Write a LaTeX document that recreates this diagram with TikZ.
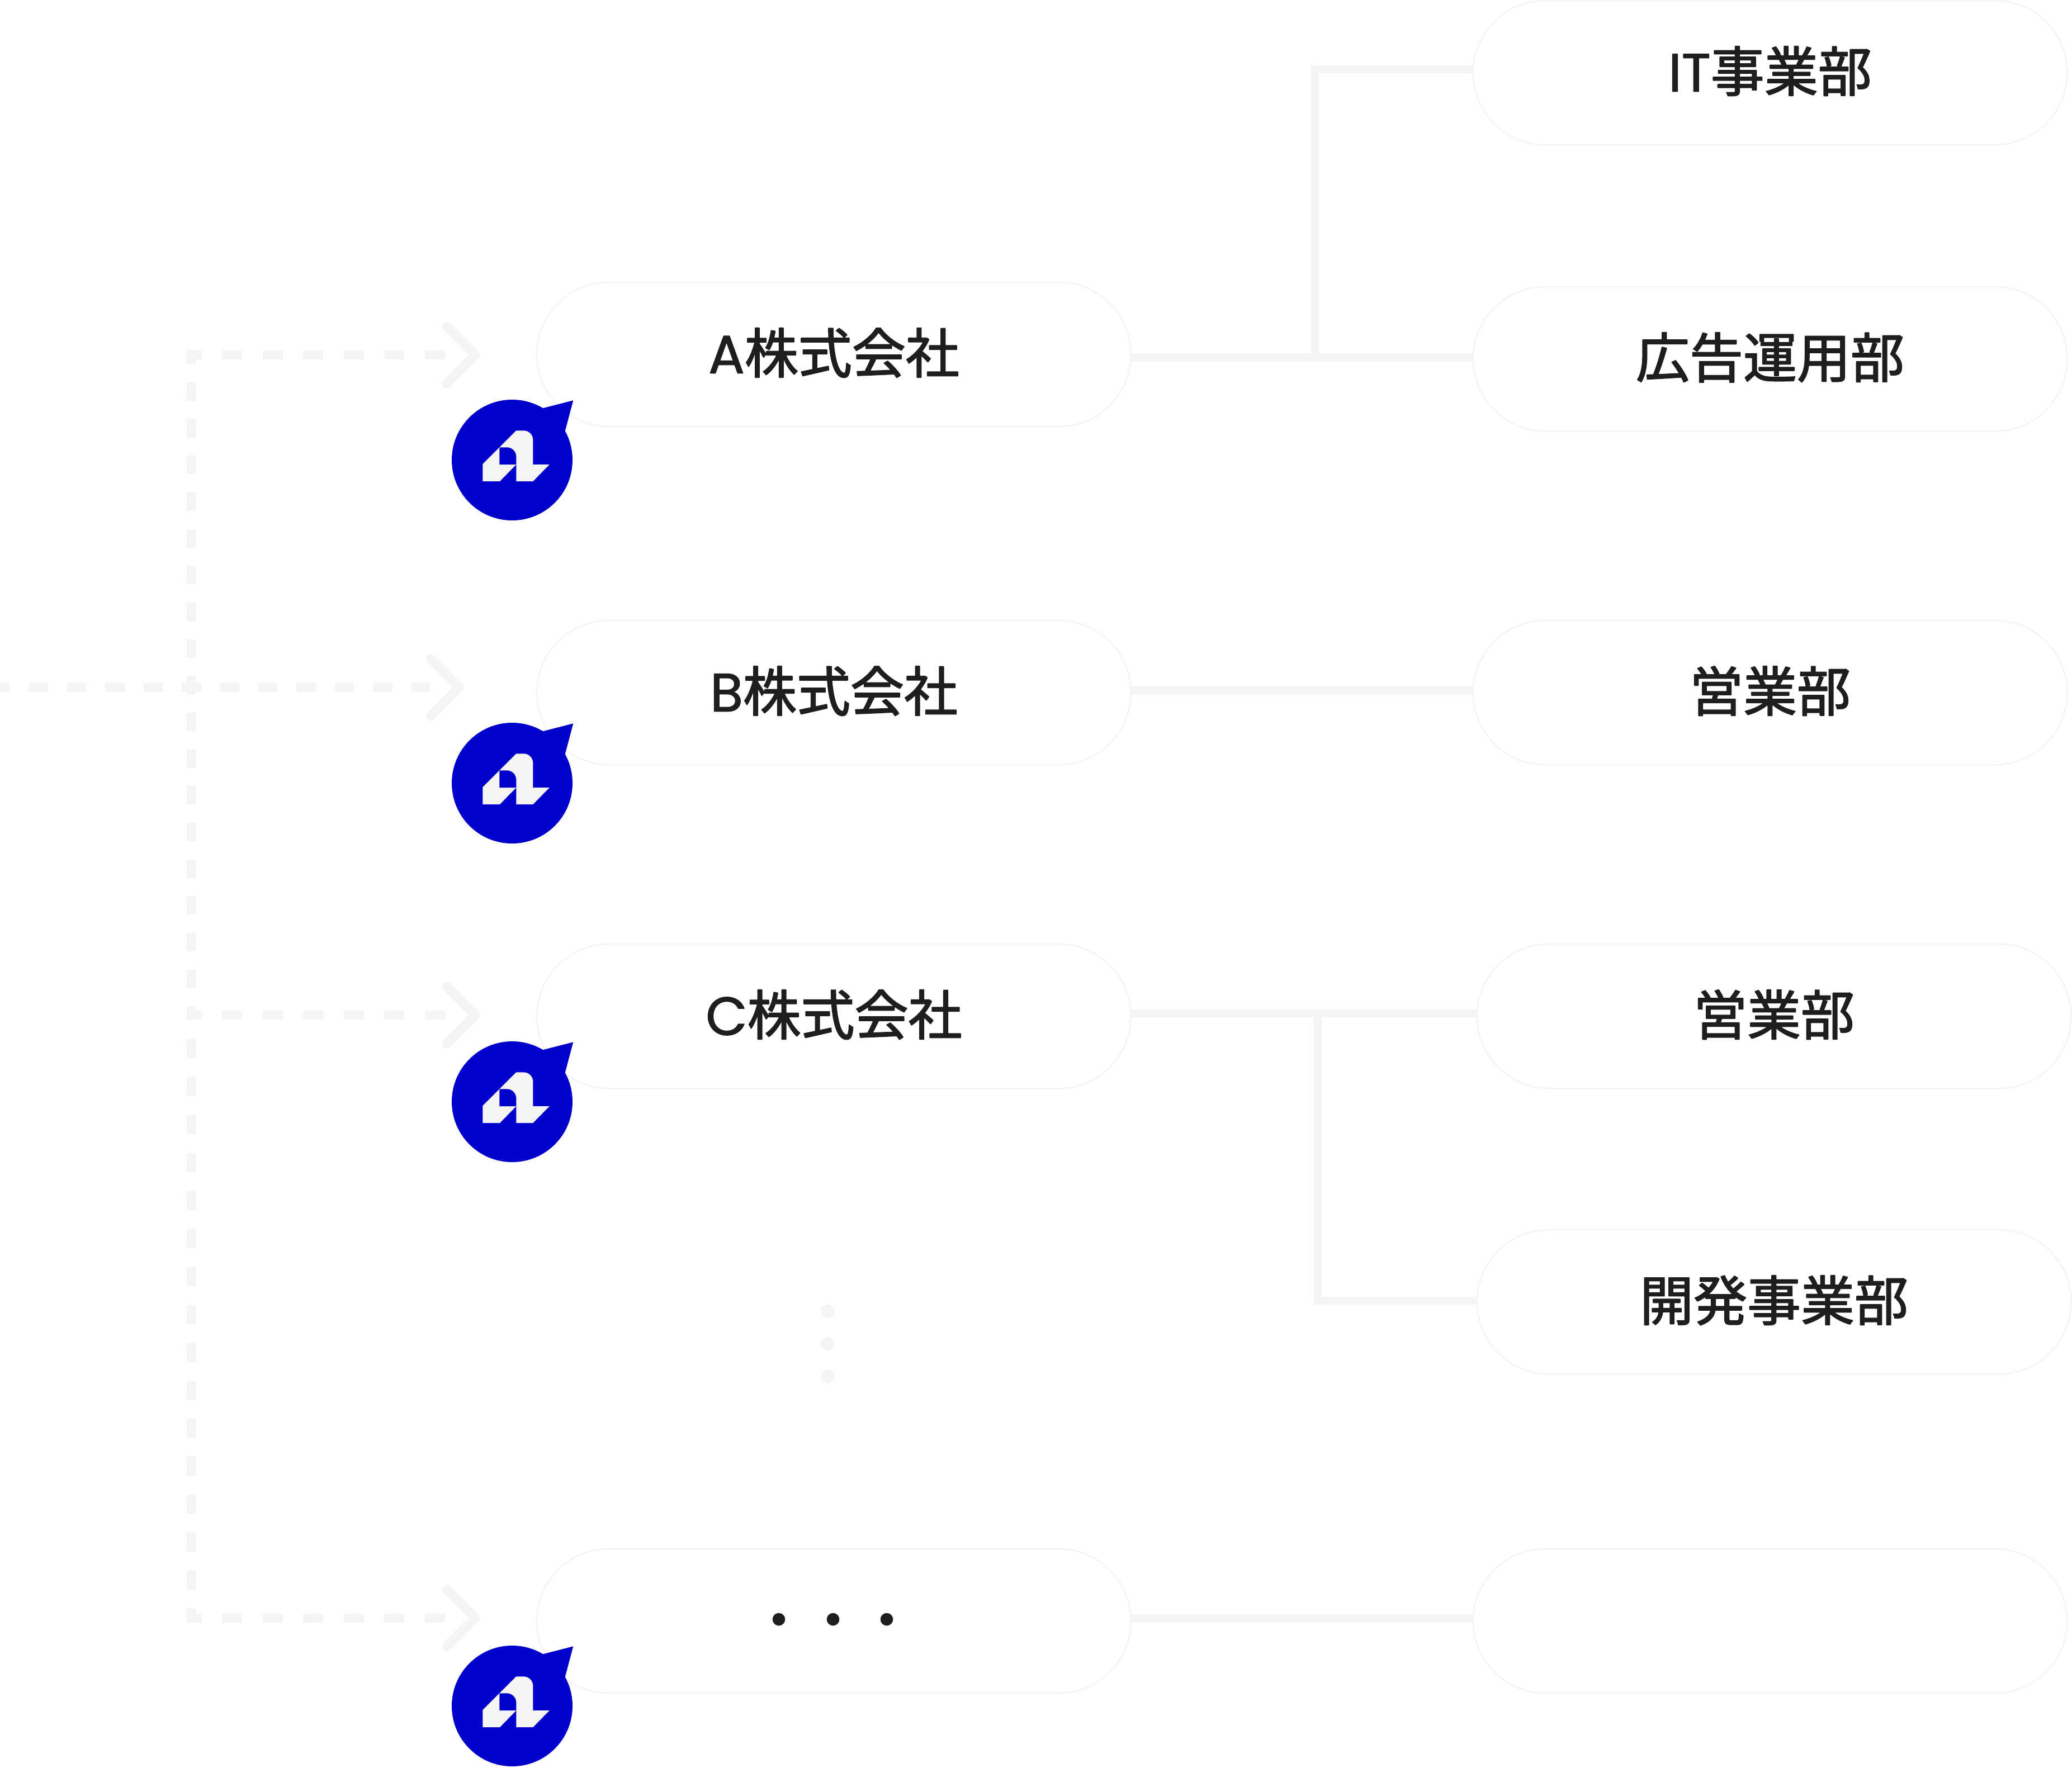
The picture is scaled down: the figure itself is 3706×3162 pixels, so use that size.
\documentclass[tikz,border=0pt]{standalone}
\usepackage{fontspec}
\setmainfont{Noto Sans CJK JP}[FakeBold=2]
\newfontfamily\latinfont{Poppins}[FakeBold=1.5]
\definecolor{ink}{HTML}{1E1E1E}
\definecolor{softline}{HTML}{F5F4F2}
\definecolor{pillrim}{HTML}{F3F3F3}
\definecolor{accent}{HTML}{0000CD}
\usetikzlibrary{
  positioning,
  calc,
  shapes.misc
}
\tikzset{
  every picture/.style={line cap=round, line join=round},
  every node/.style={font=\fontsize{27.3}{30}\selectfont, text=ink},
  pill/.style={
    rounded rectangle,
    draw=pillrim,
    fill=white,
    line width=0.6pt,
    minimum width=10.62cm,
    minimum height=2.58cm,
    text height=0.9cm,
    text depth=0.23cm,
    inner sep=0pt
  },
  link/.style={line width=4pt, draw=softline, line cap=butt, line join=miter},
  flowrow/.style={line width=4.55pt, draw=softline, line cap=butt, dash pattern=on 10.24pt off 10.39pt, dash phase=2.7pt},
  flowmain/.style={line width=4.55pt, draw=softline, line cap=butt, dash pattern=on 9.79pt off 9.67pt, dash phase=4.84pt},
  flowcol/.style={line width=4.55pt, draw=softline, line cap=butt, dash pattern=on 9.39pt off 9.28pt, dash phase=2.16pt},
  flowcoltwo/.style={line width=4.55pt, draw=softline, line cap=butt, dash pattern=on 9.67pt off 9.65pt},
  chevron/.style={line width=4.8pt, draw=softline},
  logo/.pic={
    % bubble with its tail
    \fill[accent] (0,0) circle (108);
    \fill[accent] (54.7,-92.7) -- (109.3,-106.7) -- (94.7,-52) -- cycle;
    % mark
    \fill[softline] (-52.7,7.3) -- (7.3,-52.7) -- (20.7,-52.7)
      .. controls (30,-52.7) and (37.3,-45) .. (37.3,-36)
      -- (37.3,8) -- (66.7,8) -- (37.3,38) -- (7.3,38) -- (7.3,8) -- (-22,38) -- (-52.7,38) -- cycle;
    \fill[accent] (-22.7,-22.7) -- (-9.3,-22.7)
      .. controls (0,-22.7) and (7.3,-15) .. (7.3,-6)
      -- (7.3,8) -- (-22.7,8) -- cycle;
  }
}
\begin{document}
\begin{tikzpicture}[x=0.01cm, y=-0.01cm]
  \useasboundingbox (0,0) rectangle (3706,3162);

  % Left: dashed feed lines
  \coordinate (feedA) at (334,635);
  \coordinate (feedB) at (0,1230);
  \coordinate (feedC) at (334,1816);
  \coordinate (feedD) at (334,2895);
  \coordinate (tipA) at (850,635);
  \coordinate (tipB) at (821,1230);
  \coordinate (tipC) at (850,1816);
  \coordinate (tipD) at (850,2895);
  \draw[flowcol] (342,626) -- (342,1824);
  \draw[flowcoltwo] (342,1859) -- (342,2903);
  \draw[flowrow] (feedA) -- ($(tipA)+(-54,0)$);
  \draw[flowmain] (feedB) -- ($(tipB)+(-52,0)$);
  \draw[flowrow] (feedC) -- ($(tipC)+(-54,0)$);
  \draw[flowrow] (feedD) -- ($(tipD)+(-54,0)$);
  \draw[chevron] ($(tipA)+(-51,-51)$) -- (tipA) -- ($(tipA)+(-51,51)$);
  \draw[chevron] ($(tipB)+(-51,-51)$) -- (tipB) -- ($(tipB)+(-51,51)$);
  \draw[chevron] ($(tipC)+(-51,-51)$) -- (tipC) -- ($(tipC)+(-51,51)$);
  \draw[chevron] ($(tipD)+(-51,-51)$) -- (tipD) -- ($(tipD)+(-51,51)$);

  % Middle: companies
  \node[pill] (compA) at (1491.5,634) {{\latinfont A}株式会社};
  \node[pill] (compB) at (1491.5,1239) {{\latinfont B}株式会社};
  \node[pill] (compC) at (1491.5,1818) {{\latinfont C}株式会社};
  \node[pill] (compD) at (1491.5,2900) {};

  % Right: departments
  \node[pill] (deptIT) at (3166,130) {{\latinfont IT}事業部};
  \node[pill] (deptAd) at (3166,642) {広告運用部};
  \node[pill] (deptB) at (3166,1239) {営業部};
  \node[pill] (deptC) at (3173,1818) {営業部};
  \node[pill] (deptDev) at (3173,2329) {開発事業部};
  \node[pill] (deptD) at (3166,2900) {};

  % Connectors
  \coordinate (busIT) at (2352,124);
  \coordinate (busA) at (2352,639);
  \coordinate (busB) at (2352,1235);
  \coordinate (busC) at (2357,1813);
  \coordinate (busDev) at (2357,2327);
  \coordinate (busD) at (2352,2895);
  \draw[link] (compA.east |- busA) -- (deptAd.west |- busA);
  \draw[link] (deptIT.west |- busIT) -- (busIT) -- (busA);
  \draw[link] (compB.east |- busB) -- (deptB.west |- busB);
  \draw[link] (compC.east |- busC) -- (deptC.west |- busC);
  \draw[link] (busC) -- (busDev) -- (deptDev.west |- busDev);
  \draw[link] (compD.east |- busD) -- (deptD.west |- busD);

  % Placeholders
  \fill[softline] (1480,2346) circle (12);
  \fill[softline] (1480,2404) circle (12);
  \fill[softline] (1480,2462) circle (12);
  \fill[ink] (1393,2897) circle (11.3);
  \fill[ink] (1490,2897) circle (11.3);
  \fill[ink] (1586,2897) circle (11.3);

  % Logos
  \pic at (916,823) {logo};
  \pic at (916,1401) {logo};
  \pic at (916,1971) {logo};
  \pic at (916,3052) {logo};
\end{tikzpicture}
\end{document}
